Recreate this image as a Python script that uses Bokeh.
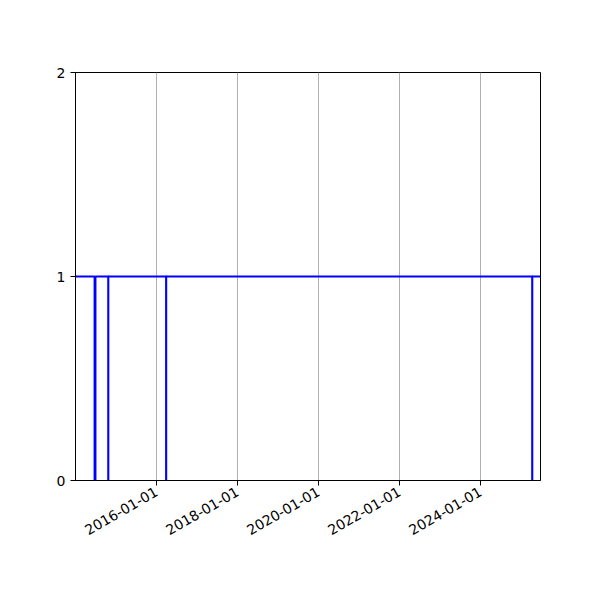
import math
import pandas as pd
from bokeh.plotting import figure
from bokeh.models import FixedTicker, DatetimeTickFormatter, Range1d
from bokeh.embed import file_html
from bokeh.resources import INLINE

# step change points (value holds until next date)
dates = ["2014-01-01", "2014-06-22", "2014-06-30", "2014-10-23", "2014-10-24",
         "2016-03-28", "2016-03-29", "2025-04-11", "2025-04-12", "2025-06-25"]
values = [1, 0, 1, 0, 1, 0, 1, 0, 1, 1]
tick_dates = ["2016-01-01", "2018-01-01", "2020-01-01", "2022-01-01", "2024-01-01"]
y_ticks = [0, 1, 2]

x = pd.to_datetime(dates)
xstart, xend = x[0], x[-1]

p = figure(width=584, height=584, x_axis_type="datetime",
           output_backend="svg", toolbar_location=None,
           x_range=Range1d(xstart, xend), y_range=Range1d(0, 2),
           min_border_left=75, min_border_right=44,
           min_border_top=72, min_border_bottom=104)

p.step(x, values, mode="after", line_color="#0000ff", line_width=2)

tick_ms = [pd.Timestamp(d).value / 1e6 for d in tick_dates]
p.xaxis.ticker = FixedTicker(ticks=tick_ms)
fmt = "%Y-%m-%d"
p.xaxis.formatter = DatetimeTickFormatter(
    milliseconds=fmt, seconds=fmt, minsec=fmt, minutes=fmt, hourmin=fmt,
    hours=fmt, days=fmt, months=fmt, years=fmt)
p.xaxis.major_label_orientation = math.pi / 6
p.yaxis.ticker = FixedTicker(ticks=y_ticks)

for ax in (p.xaxis, p.yaxis):
    ax.minor_tick_line_color = None
    ax.major_tick_out = 5
    ax.major_tick_in = 0
    ax.major_label_text_font = "DejaVu Sans"
    ax.major_label_text_font_size = "14px"
    ax.major_label_text_color = "black"
    ax.axis_line_color = "black"
    ax.major_tick_line_color = "black"

p.xgrid.grid_line_color = "#b0b0b0"
p.xgrid.grid_line_width = 1
p.ygrid.grid_line_color = None
p.outline_line_color = "black"
p.outline_line_width = 1
p.background_fill_color = "white"
p.border_fill_color = "white"

open("out.html", "w").write(file_html(p, INLINE))
